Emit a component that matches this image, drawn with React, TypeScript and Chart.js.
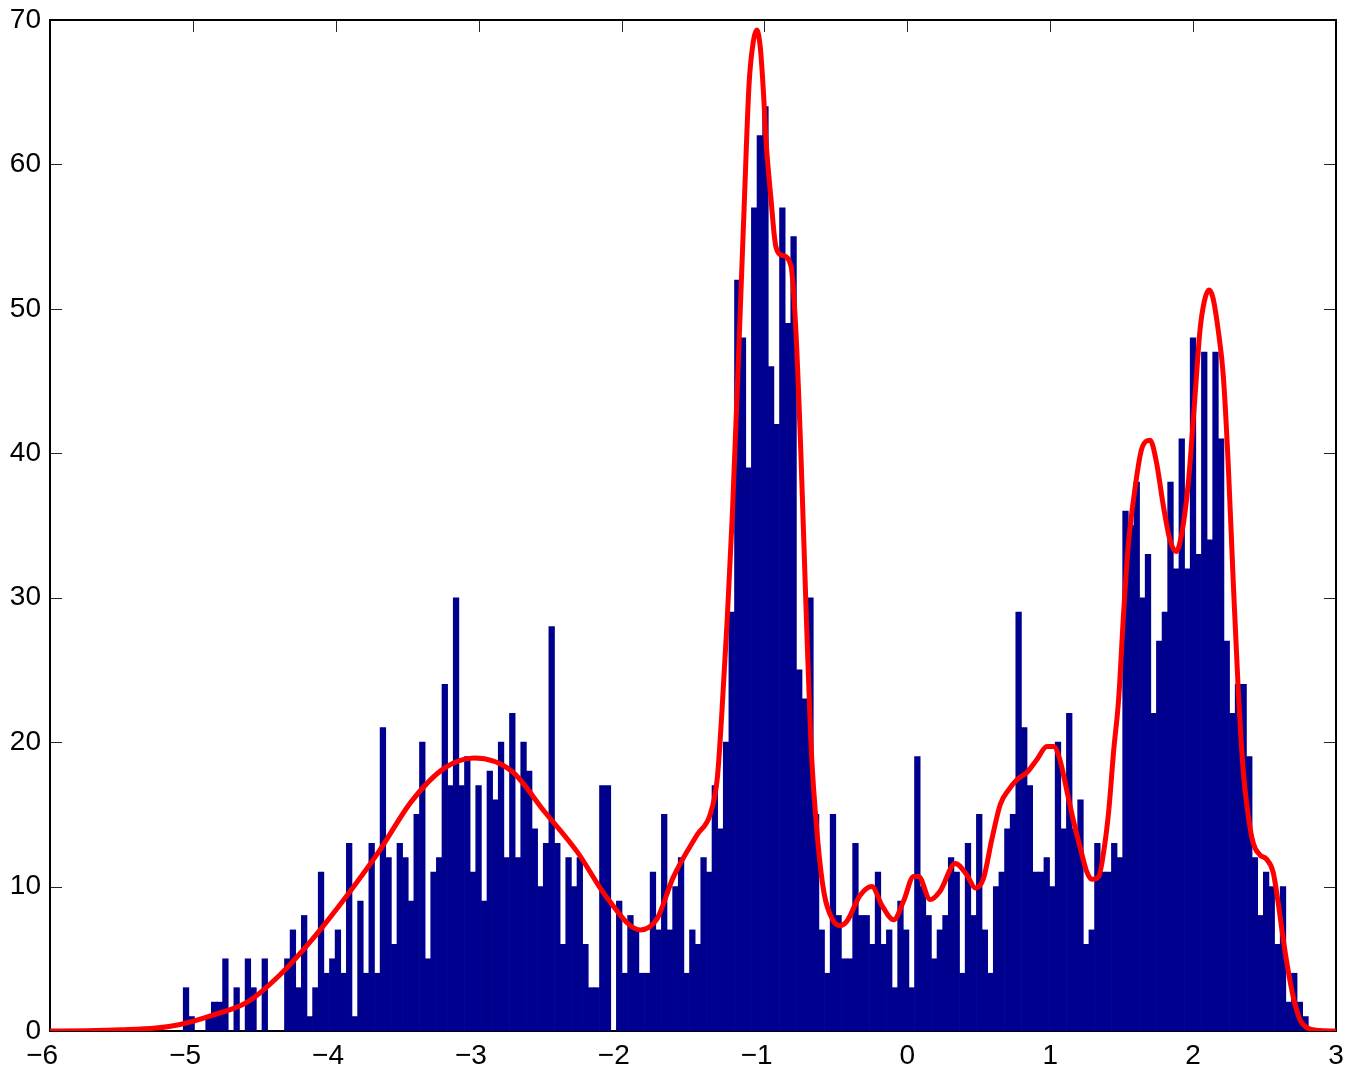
import React, { useEffect, useRef } from 'react';
import { Chart, registerables } from 'chart.js';

Chart.register(...registerables);

// Histogram: 200 equal bins, first bin centre and bin width (data units)
const BIN_FIRST_CENTER = -5.048;
const BIN_WIDTH = 0.03937;

// Counts per bin, split in four blocks of 50 bins
const COUNTS_A = [
  3, 1, 0, 0, 1, 2, 2, 5, 0, 3,
  0, 5, 3, 0, 5, 0, 0, 0, 5, 7,
  3, 8, 1, 3, 11, 4, 5, 7, 4, 13,
  1, 9, 4, 13, 4, 21, 12, 6, 13, 12,
  9, 15, 20, 5, 11, 12, 24, 17, 30, 17,
];
const COUNTS_B = [
  19, 11, 17, 9, 18, 16, 20, 12, 22, 12,
  20, 18, 14, 10, 13, 28, 13, 6, 12, 10,
  12, 6, 3, 3, 17, 17, 0, 9, 4, 8,
  7, 4, 4, 11, 7, 15, 7, 10, 12, 4,
  7, 6, 12, 11, 17, 14, 20, 29, 52, 48,
];
const COUNTS_C = [
  39, 57, 62, 64, 46, 42, 57, 49, 55, 25,
  23, 30, 15, 7, 4, 15, 8, 5, 5, 13,
  8, 8, 6, 11, 6, 7, 3, 9, 7, 3,
  19, 10, 8, 5, 7, 8, 12, 11, 4, 13,
  8, 15, 7, 4, 10, 11, 14, 15, 29, 21,
];
const COUNTS_D = [
  17, 11, 11, 12, 10, 20, 14, 22, 14, 16,
  6, 7, 13, 11, 11, 13, 12, 36, 35, 38,
  30, 33, 22, 27, 29, 38, 32, 41, 32, 48,
  33, 47, 34, 47, 41, 27, 22, 24, 24, 19,
  12, 8, 11, 10, 6, 10, 2, 4, 2, 1,
];

// Kernel density curve (scaled to counts)
const KDE_X = [
  -6, -5.75, -5.5, -5.26, -5.09, -4.86, -4.62, -4.39, -4.16, -3.92,
  -3.7, -3.47, -3.24, -3.03, -2.77, -2.54, -2.31, -2.1, -1.87, -1.75,
  -1.64, -1.47, -1.38, -1.33, -1.3, -1.26, -1.224, -1.178, -1.143, -1.108,
  -1.078, -1.053, -1.028, -1.007, -0.99, -0.955, -0.92, -0.873, -0.815, -0.78,
  -0.745, -0.71, -0.675, -0.628, -0.582, -0.522, -0.47, -0.423, -0.33, -0.248,
  -0.178, -0.096, -0.026, 0.044, 0.079, 0.16, 0.23, 0.335, 0.417, 0.476,
  0.534, 0.592, 0.651, 0.709, 0.767, 0.837, 0.907, 0.977, 1.024, 1.07,
  1.117, 1.164, 1.21, 1.257, 1.292, 1.339, 1.374, 1.409, 1.444, 1.479,
  1.514, 1.545, 1.594, 1.64, 1.699, 1.745, 1.791, 1.838, 1.88, 1.92,
  1.966, 2.013, 2.048, 2.078, 2.111, 2.138, 2.176, 2.211, 2.246, 2.281,
  2.316, 2.351, 2.386, 2.421, 2.467, 2.514, 2.56, 2.595, 2.63, 2.665,
  2.7, 2.747, 2.793, 2.89, 3.0,
];
const KDE_Y = [
  0, 0.02, 0.08, 0.2, 0.45, 1.1, 2.0, 3.9, 6.4, 9.4,
  12.4, 15.9, 18.2, 18.9, 18.0, 15.2, 12.4, 9.2, 7.0, 7.8,
  10.6, 13.6, 15.0, 17.5, 21.7, 28.6, 35.9, 47.6, 56.8, 65.5,
  68.5, 69.3, 68.0, 65.0, 61.8, 57.7, 54.3, 53.7, 53.0, 48.5,
  40.0, 29.6, 20.0, 13.3, 9.5, 7.7, 7.3, 7.6, 9.4, 10.0,
  8.7, 7.7, 9.0, 10.7, 10.7, 9.1, 9.7, 11.6, 10.8, 9.9,
  10.6, 13.3, 15.7, 16.7, 17.4, 17.9, 18.8, 19.7, 19.7, 18.7,
  16.6, 14.5, 12.7, 11.0, 10.5, 10.7, 12.4, 15.2, 19.4, 23.0,
  29.0, 33.5, 37.6, 40.3, 40.9, 39.3, 36.4, 34.0, 33.2, 34.4,
  37.9, 43.9, 48.5, 50.5, 51.3, 50.8, 48.5, 45.4, 39.2, 31.1,
  23.6, 18.0, 14.9, 13.0, 12.2, 11.9, 11.0, 8.9, 6.4, 4.2,
  2.4, 0.8, 0.25, 0.03, 0,
];

const X_TICKS = [-6, -5, -4, -3, -2, -1, 0, 1, 2, 3];
const Y_TICKS = [0, 10, 20, 30, 40, 50, 60, 70];

const FONT_FAMILY = "'Liberation Sans', Arial, Helvetica, sans-serif";

const matlabAxes = {
  id: 'matlabAxes',
  beforeDatasetsDraw(chart: any) {
    const { ctx, chartArea } = chart;
    const { left, right, top, bottom } = chartArea;
    const xs = chart.scales.x;
    const ys = chart.scales.y;
    const tl = 12;
    ctx.save();
    ctx.strokeStyle = '#262626';
    ctx.lineWidth = 1;
    ctx.beginPath();
    X_TICKS.forEach((v) => {
      const p = Math.round(xs.getPixelForValue(v)) + 0.5;
      ctx.moveTo(p, bottom);
      ctx.lineTo(p, bottom - tl);
      ctx.moveTo(p, top);
      ctx.lineTo(p, top + tl);
    });
    Y_TICKS.forEach((v) => {
      const p = Math.round(ys.getPixelForValue(v)) + 0.5;
      ctx.moveTo(left, p);
      ctx.lineTo(left + tl, p);
      ctx.moveTo(right, p);
      ctx.lineTo(right - tl, p);
    });
    ctx.stroke();
    ctx.strokeStyle = '#000000';
    ctx.lineWidth = 2;
    ctx.strokeRect(left, top, right - left, bottom - top);
    ctx.restore();
  },
};

function fmtTick(v: number): string {
  if (v < 0) return '\u2212' + Math.abs(v) + '\u2007';
  return String(v);
}

export default function App() {
  const canvasRef = useRef<HTMLCanvasElement | null>(null);

  useEffect(() => {
    if (!canvasRef.current) return;
    const counts = [...COUNTS_A, ...COUNTS_B, ...COUNTS_C, ...COUNTS_D];
    const bars = counts.map((c, i) => ({ x: BIN_FIRST_CENTER + i * BIN_WIDTH, y: c }));
    const kde = KDE_X.map((x, i) => ({ x, y: KDE_Y[i] }));

    const chart = new Chart(canvasRef.current, {
      type: 'bar',
      data: {
        datasets: [
          {
            type: 'line',
            data: kde,
            borderColor: '#ff0000',
            borderWidth: 5,
            pointRadius: 0,
            fill: false,
            cubicInterpolationMode: 'monotone',
            order: 0,
          } as any,
          {
            type: 'bar',
            data: bars,
            backgroundColor: '#00008f',
            borderWidth: 0,
            barPercentage: 1,
            categoryPercentage: 1,
            order: 1,
          } as any,
        ],
      },
      options: {
        animation: false,
        responsive: false,
        maintainAspectRatio: false,
        layout: { padding: { top: 20, right: 19, left: 0, bottom: 0 } },
        plugins: { legend: { display: false }, tooltip: { enabled: false } },
        scales: {
          x: {
            type: 'linear',
            min: -6,
            max: 3,
            offset: false,
            grid: { display: false, drawTicks: false, offset: false },
            border: { display: false },
            ticks: {
              stepSize: 1,
              padding: 8,
              color: '#000',
              maxRotation: 0,
              autoSkip: false,
              font: { family: FONT_FAMILY, size: 28 },
              callback: (v: any) => fmtTick(Number(v)),
            },
            afterFit: (s: any) => {
              s.height = 41;
              s.paddingLeft = 0;
              s.paddingRight = 0;
            },
          },
          y: {
            type: 'linear',
            min: 0,
            max: 70,
            grid: { display: false, drawTicks: false },
            border: { display: false },
            ticks: {
              stepSize: 10,
              padding: 9,
              color: '#000',
              autoSkip: false,
              font: { family: FONT_FAMILY, size: 28 },
              callback: (v: any) => fmtTick(Number(v)),
            },
            afterFit: (s: any) => {
              s.width = 50;
              s.paddingTop = 0;
              s.paddingBottom = 0;
            },
          },
        },
      } as any,
      plugins: [matlabAxes],
    });
    return () => chart.destroy();
  }, []);

  return (
    <div style={{ position: 'absolute', left: 0, top: 0, width: 1355, height: 1072, background: '#fff' }}>
      <canvas ref={canvasRef} width={1355} height={1072} style={{ display: 'block' }} />
    </div>
  );
}
